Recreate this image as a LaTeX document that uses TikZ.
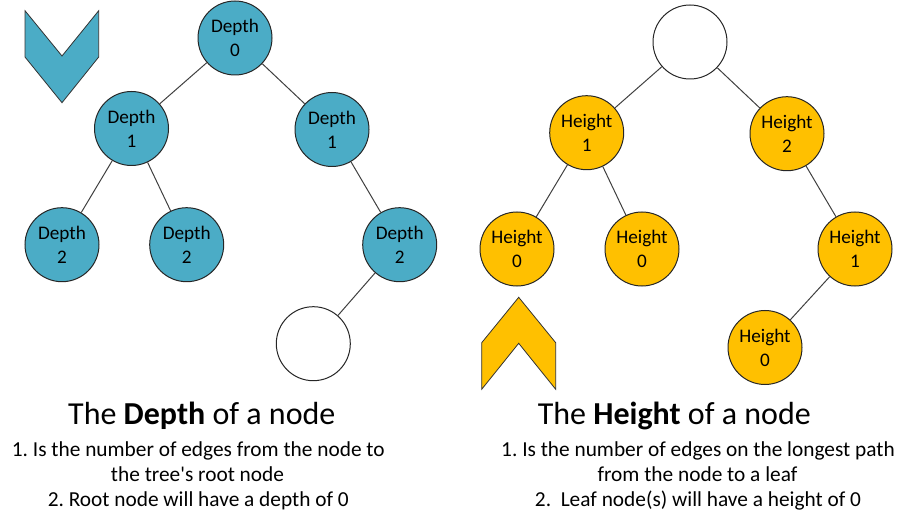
\documentclass[tikz,border=0pt]{standalone}
\usepackage{fontspec}
\setmainfont{Carlito}
\frenchspacing
\definecolor{dblue}{HTML}{4BACC6}
\definecolor{hyellow}{HTML}{FFC000}
\definecolor{edgegray}{HTML}{404040}
\begin{document}
\begin{tikzpicture}[x=0.75pt,y=-0.75pt,
  treenode/.style={circle,draw=black!85,line width=0.75pt,minimum size=55.5pt,inner sep=0pt,
    align=center,font=\fontsize{14.4}{18}\selectfont},
  dnode/.style={treenode,fill=dblue},
  hnode/.style={treenode,fill=hyellow},
  enode/.style={treenode,fill=white},
  link/.style={draw=edgegray,line width=0.75pt},
  chevron/.style={draw=black!80,line width=0.6pt},
  title/.style={anchor=base,inner sep=0pt,font=\fontsize{24}{28}\selectfont},
  body/.style={anchor=base,inner sep=0pt,font=\fontsize{16}{19}\selectfont}]
\useasboundingbox (0,0) rectangle (911,524);

% chevrons
\draw[chevron,fill=dblue] (25,10.7) -- (62,56) -- (98.7,10.7) -- (98.7,57) -- (62,102.7) -- (25,57) -- cycle;
\draw[chevron,fill=hyellow] (518.7,297.3) -- (555.7,342.7) -- (555.7,389.3) -- (518.7,343.3) -- (481.7,389.3) -- (481.7,342.7) -- cycle;

% depth tree
\node[dnode] (d0) at (235,38) {Depth\\0};
\node[dnode] (d1a) at (131.5,128.5) {Depth\\1};
\node[dnode] (d1b) at (332,129.5) {Depth\\1};
\node[dnode] (d2a) at (62,244.7) {Depth\\2};
\node[dnode] (d2b) at (186.7,244.7) {Depth\\2};
\node[dnode] (d2c) at (399.7,244.7) {Depth\\2};
\node[enode] (d3) at (313.3,343.7) {};
\draw[link] (d0) -- (d1a);
\draw[link] (d0) -- (d1b);
\draw[link] (d1a) -- (d2a);
\draw[link] (d1a) -- (d2b);
\draw[link] (d1b) -- (d2c);
\draw[link] (d2c) -- (d3);

% height tree
\node[enode] (h3) at (690,42) {};
\node[hnode] (h1a) at (586.7,132.7) {Height\\1};
\node[hnode] (h2) at (787,133.7) {Height\\2};
\node[hnode] (h0a) at (517,249) {Height\\0};
\node[hnode] (h0b) at (642,249) {Height\\0};
\node[hnode] (h1b) at (855,249) {Height\\1};
\node[hnode] (h0c) at (765,347.5) {Height\\0};
\draw[link] (h3) -- (h1a);
\draw[link] (h3) -- (h2);
\draw[link] (h1a) -- (h0a);
\draw[link] (h1a) -- (h0b);
\draw[link] (h2) -- (h1b);
\draw[link] (h1b) -- (h0c);

% texts
\node[title] (tl) at (201.8,424.3) {The \textbf{Depth} of a node};
\node[body] (l1) at (198.3,456.7) {1. Is the number of edges from the node to};
\node[body] (l2) at (197.5,481) {the tree\textquotesingle s root node};
\node[body] (l3) at (198.3,506.7) {2. Root node will have a depth of 0};

\node[title] (tr) at (674.3,424.3) {The \textbf{Height} of a node};
\node[body] (r1) at (698,456.7) {1. Is the number of edges on the longest path};
\node[body] (r2) at (697.5,481) {from the node to a leaf};
\node[body] (r3) at (698,506.7) {2.\ \ Leaf node(s) will have a height of 0};
\end{tikzpicture}
\end{document}
